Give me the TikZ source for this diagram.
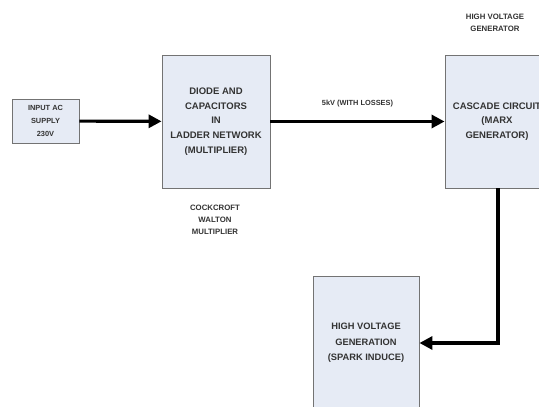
\documentclass[tikz,border=0pt]{standalone}
\usepackage{fontspec}
\setmainfont{Liberation Sans}
\usetikzlibrary{positioning}
\usetikzlibrary{calc}
\usetikzlibrary{arrows.meta}

\begin{document}
\begin{tikzpicture}[x=1pt, y=1pt,
    block/.style={draw=black!55, line width=0.9pt, fill={rgb,255:red,230;green,235;blue,245}, text=black!80, font=\bfseries\fontsize{9.5}{14.8}\selectfont, align=center, inner sep=0pt},
    note/.style={text=black!80, font=\bfseries\fontsize{7.8}{12}\selectfont, align=center},
    flow/.style={-{Triangle[width=13pt,length=13pt]}, line width=3.2pt}]
            \clip (0,0) rectangle (539,-407);
            \node[block, minimum width=67, minimum height=44, font=\bfseries\fontsize{7.4}{13.2}\selectfont] (supply) at (45.5,-121) {INPUT AC\\SUPPLY\\230V};
            \node[block, minimum width=108, minimum height=133] (ladder) at (216,-121.5) {DIODE AND\\CAPACITORS\\IN\\LADDER NETWORK\\(MULTIPLIER)};
            \node[block, minimum width=104, minimum height=133] (marx) at (497,-121.5) {CASCADE CIRCUIT\\(MARX\\GENERATOR)};
            \node[block, minimum width=106, minimum height=134, font=\bfseries\fontsize{9.3}{15.4}\selectfont] (spark) at (366,-343) {HIGH VOLTAGE\\GENERATION\\(SPARK INDUCE)};

            \node[note] (cw) at (215,-220) {COCKCROFT\\WALTON\\MULTIPLIER};
            \node[note] (hvg) at (495,-23) {HIGH VOLTAGE\\GENERATOR};

            \draw[flow] (supply) -- (ladder);
            \draw[flow] (ladder) -- node[note, above=10pt, font=\bfseries\fontsize{7.4}{12}\selectfont] (loss) {5kV (WITH LOSSES)} (marx);
            \coordinate (bend) at (498,-343);
            \draw[flow] (marx.south -| bend) -- (bend) -- (spark);
        \end{tikzpicture}
\end{document}
